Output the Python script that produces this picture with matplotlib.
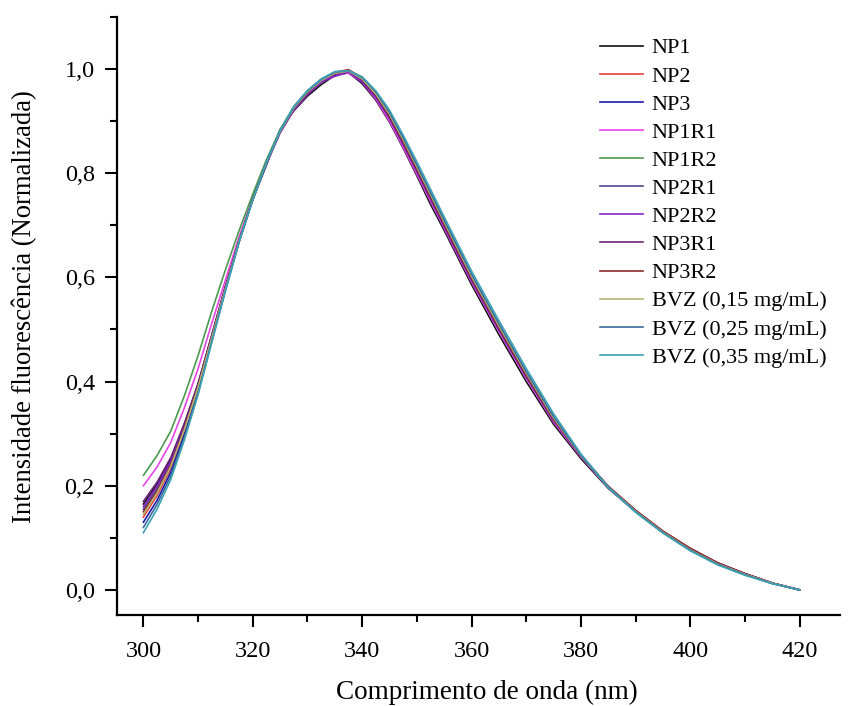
import matplotlib
matplotlib.use("Agg")
import matplotlib.pyplot as plt
from matplotlib.ticker import MultipleLocator, FuncFormatter

plt.rcParams['font.family'] = ['Liberation Serif', 'DejaVu Serif']

# Wavelength grid (nm)
wavelength = [300, 302.5, 305, 307.5, 310, 312.5, 315, 317.5, 320, 322.5, 325, 327.5,
              330, 332.5, 335, 337.5, 340, 342.5, 345, 347.5, 350, 352.5, 355, 357.5,
              360, 365, 370, 375, 380, 385, 390, 395, 400, 405, 410, 415, 420]

# Normalized fluorescence intensity per sample
np1 = [0.165, 0.203, 0.251, 0.318, 0.396, 0.489, 0.583, 0.671, 0.750, 0.816, 0.884, 0.920,
       0.948, 0.970, 0.988, 0.993, 0.972, 0.940, 0.898, 0.848, 0.795, 0.740, 0.690, 0.638,
       0.586, 0.490, 0.400, 0.318, 0.252, 0.195, 0.150, 0.110, 0.078, 0.051, 0.031, 0.013, 0.0]
np2 = [0.140, 0.181, 0.233, 0.305, 0.387, 0.483, 0.579, 0.670, 0.750, 0.821, 0.879, 0.926,
       0.957, 0.980, 0.994, 0.999, 0.983, 0.950, 0.910, 0.860, 0.806, 0.753, 0.700, 0.648,
       0.597, 0.502, 0.411, 0.327, 0.258, 0.198, 0.152, 0.112, 0.079, 0.051, 0.031, 0.013, 0.0]
np3 = [0.130, 0.172, 0.226, 0.299, 0.382, 0.480, 0.577, 0.669, 0.750, 0.819, 0.880, 0.924,
       0.956, 0.977, 0.993, 0.995, 0.981, 0.952, 0.912, 0.862, 0.810, 0.757, 0.704, 0.652,
       0.600, 0.504, 0.413, 0.328, 0.257, 0.197, 0.151, 0.111, 0.078, 0.051, 0.031, 0.013, 0.0]
np1r1 = [0.200, 0.236, 0.283, 0.350, 0.425, 0.512, 0.595, 0.678, 0.753, 0.821, 0.878, 0.922,
         0.952, 0.975, 0.990, 0.992, 0.975, 0.942, 0.900, 0.850, 0.798, 0.746, 0.694, 0.642,
         0.591, 0.496, 0.406, 0.322, 0.255, 0.196, 0.151, 0.111, 0.078, 0.051, 0.031, 0.013, 0.0]
np1r2 = [0.220, 0.258, 0.305, 0.373, 0.450, 0.535, 0.615, 0.690, 0.760, 0.826, 0.884, 0.928,
         0.958, 0.980, 0.993, 0.996, 0.981, 0.951, 0.912, 0.862, 0.810, 0.758, 0.705, 0.653,
         0.601, 0.506, 0.414, 0.328, 0.257, 0.197, 0.151, 0.111, 0.078, 0.051, 0.031, 0.013, 0.0]
np2r1 = [0.155, 0.194, 0.243, 0.312, 0.391, 0.486, 0.580, 0.670, 0.750, 0.819, 0.881, 0.924,
         0.956, 0.977, 0.994, 0.995, 0.980, 0.949, 0.909, 0.859, 0.807, 0.754, 0.701, 0.649,
         0.597, 0.502, 0.411, 0.326, 0.257, 0.197, 0.151, 0.111, 0.078, 0.051, 0.031, 0.013, 0.0]
np2r2 = [0.160, 0.199, 0.247, 0.315, 0.393, 0.487, 0.581, 0.671, 0.750, 0.818, 0.878, 0.921,
         0.950, 0.975, 0.986, 0.994, 0.975, 0.945, 0.905, 0.855, 0.803, 0.750, 0.697, 0.645,
         0.594, 0.499, 0.409, 0.325, 0.257, 0.198, 0.152, 0.112, 0.079, 0.052, 0.031, 0.013, 0.0]
np3r1 = [0.170, 0.207, 0.254, 0.320, 0.396, 0.489, 0.582, 0.671, 0.750, 0.820, 0.879, 0.923,
         0.953, 0.979, 0.990, 0.997, 0.978, 0.948, 0.907, 0.857, 0.805, 0.752, 0.699, 0.647,
         0.596, 0.501, 0.410, 0.326, 0.258, 0.198, 0.152, 0.112, 0.079, 0.052, 0.031, 0.013, 0.0]
np3r2 = [0.150, 0.190, 0.240, 0.310, 0.390, 0.485, 0.580, 0.670, 0.750, 0.821, 0.881, 0.926,
         0.956, 0.979, 0.993, 0.998, 0.982, 0.951, 0.911, 0.861, 0.809, 0.756, 0.703, 0.651,
         0.599, 0.504, 0.413, 0.328, 0.259, 0.199, 0.153, 0.113, 0.080, 0.052, 0.031, 0.013, 0.0]
bvz015 = [0.145, 0.186, 0.237, 0.308, 0.389, 0.484, 0.579, 0.670, 0.750, 0.820, 0.880, 0.925,
          0.956, 0.978, 0.992, 0.996, 0.981, 0.952, 0.913, 0.864, 0.812, 0.759, 0.706, 0.654,
          0.602, 0.507, 0.416, 0.330, 0.258, 0.197, 0.151, 0.111, 0.077, 0.050, 0.030, 0.013, 0.0]
bvz025 = [0.120, 0.164, 0.219, 0.293, 0.378, 0.477, 0.575, 0.668, 0.749, 0.820, 0.881, 0.927,
          0.958, 0.980, 0.994, 0.997, 0.984, 0.956, 0.917, 0.868, 0.816, 0.763, 0.710, 0.658,
          0.606, 0.511, 0.419, 0.333, 0.259, 0.197, 0.150, 0.110, 0.076, 0.049, 0.029, 0.012, 0.0]
bvz035 = [0.110, 0.155, 0.212, 0.288, 0.375, 0.475, 0.574, 0.668, 0.749, 0.821, 0.882, 0.928,
          0.959, 0.981, 0.995, 0.997, 0.985, 0.958, 0.921, 0.873, 0.822, 0.769, 0.716, 0.664,
          0.612, 0.517, 0.425, 0.338, 0.261, 0.197, 0.149, 0.109, 0.075, 0.048, 0.028, 0.012, 0.0]

labels = ["NP1", "NP2", "NP3", "NP1R1", "NP1R2", "NP2R1", "NP2R2", "NP3R1", "NP3R2",
          "BVZ (0,15 mg/mL)", "BVZ (0,25 mg/mL)", "BVZ (0,35 mg/mL)"]
series = [np1, np2, np3, np1r1, np1r2, np2r1, np2r2, np3r1, np3r2, bvz015, bvz025, bvz035]
colors = ["#111111", "#e8413c", "#1c1ca8", "#e845e8", "#4c9a50", "#4a4a8c",
          "#8424c4", "#6c2478", "#8c2a2a", "#b4b472", "#3a6a9c", "#3aa2b4"]

fig = plt.figure(figsize=(8.49, 7.06), dpi=100)
ax = fig.add_axes([0.138, 0.129, 0.851, 0.847])

for vals, lab, col in zip(series, labels, colors):
    ax.plot(wavelength, vals, color=col, lw=1.2, label=lab)

ax.set_xlim(295.2, 427.3)
ax.set_ylim(-0.048, 1.1)
ax.xaxis.set_major_locator(MultipleLocator(20))
ax.xaxis.set_minor_locator(MultipleLocator(10))
ax.yaxis.set_major_locator(MultipleLocator(0.2))
ax.yaxis.set_minor_locator(MultipleLocator(0.1))
ax.yaxis.set_major_formatter(FuncFormatter(lambda v, p: f"{v:.1f}".replace(".", ",")))

for s in ("top", "right"):
    ax.spines[s].set_visible(False)
for s in ("left", "bottom"):
    ax.spines[s].set_linewidth(1.6)

ax.tick_params(which="major", direction="out", length=8.6, width=1.5, labelsize=17.5)
ax.tick_params(which="minor", direction="out", length=5, width=1.5)
ax.tick_params(axis="x", which="major", pad=10)
ax.tick_params(axis="y", which="major", pad=7.5)

ax.set_xlabel("Comprimento de onda (nm)", fontsize=19.5)
ax.set_ylabel("Intensidade fluorescência (Normalizada)", fontsize=19.2, labelpad=20)
ax.xaxis.set_label_coords(0.512, -0.108)
ax.yaxis.label.set_y(0.515)

ax.legend(loc="upper left", bbox_to_anchor=(0.668, 0.965), frameon=False, fontsize=16,
          handlelength=1.94, handletextpad=0.4, labelspacing=0.34, borderaxespad=0.0,
          borderpad=0.0)

fig.savefig("out.png", dpi=100)
